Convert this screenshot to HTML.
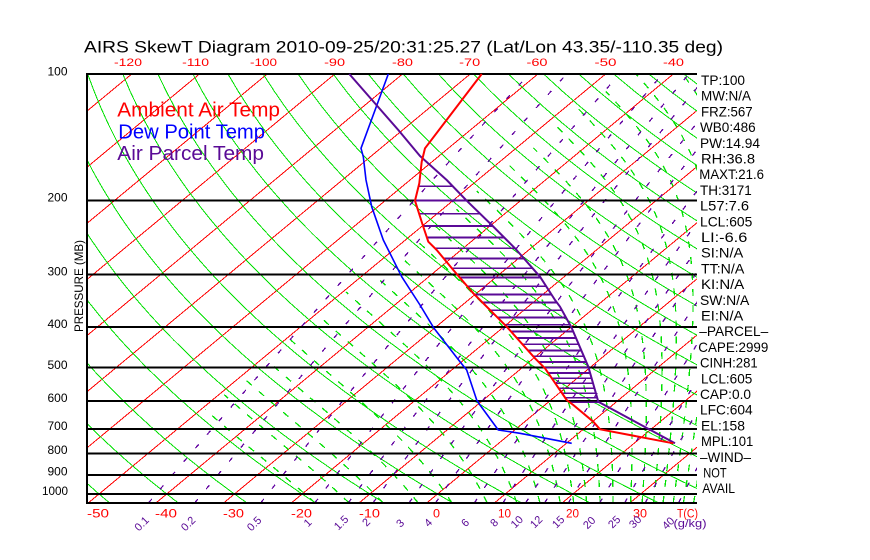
<!DOCTYPE html>
<html><head><meta charset="utf-8"><style>
html,body{margin:0;padding:0;background:#fff;}
svg{display:block;}
text{font-family:"Liberation Sans",sans-serif;}
</style></head><body>
<svg id="s" xmlns="http://www.w3.org/2000/svg" width="870" height="560" viewBox="0 0 870 560">
<rect width="870" height="560" fill="#fff"/>
<defs><clipPath id="c"><rect x="87" y="74" width="610" height="429"/></clipPath></defs>
<g clip-path="url(#c)" shape-rendering="crispEdges">
 <g id="iso" stroke="#ff0000" stroke-width="1" fill="none">
  <line x1="-385.7" y1="503" x2="131.7" y2="74"/>
  <line x1="-318" y1="503" x2="199.4" y2="74"/>
  <line x1="-250.3" y1="503" x2="267.1" y2="74"/>
  <line x1="-182.6" y1="503" x2="334.8" y2="74"/>
  <line x1="-114.9" y1="503" x2="402.5" y2="74"/>
  <line x1="-47.2" y1="503" x2="470.2" y2="74"/>
  <line x1="20.5" y1="503" x2="537.9" y2="74"/>
  <line x1="88.2" y1="503" x2="605.6" y2="74"/>
  <line x1="155.9" y1="503" x2="673.3" y2="74"/>
  <line x1="223.6" y1="503" x2="741" y2="74"/>
  <line x1="291.3" y1="503" x2="808.7" y2="74"/>
  <line x1="359" y1="503" x2="876.4" y2="74"/>
  <line x1="426.7" y1="503" x2="944.1" y2="74"/>
  <line x1="494.4" y1="503" x2="1011.8" y2="74"/>
  <line x1="562.1" y1="503" x2="1079.5" y2="74"/>
  <line x1="629.8" y1="503" x2="1147.2" y2="74"/>
 </g>
 <g id="dry" stroke="#00e000" stroke-width="1" fill="none"></g>
 <g id="wet" stroke="#00e000" stroke-width="1.3" fill="none" stroke-dasharray="7 9"></g>
 <g id="mix" stroke="#6000a0" stroke-width="1.3" fill="none" stroke-dasharray="5 13"></g>
</g>
<g stroke="#000" stroke-width="2" shape-rendering="crispEdges">
 <line x1="87" y1="74" x2="697" y2="74"/>
 <line x1="87" y1="200.4" x2="697" y2="200.4"/>
 <line x1="87" y1="274.4" x2="697" y2="274.4"/>
 <line x1="87" y1="326.9" x2="697" y2="326.9"/>
 <line x1="87" y1="367.6" x2="697" y2="367.6"/>
 <line x1="87" y1="400.8" x2="697" y2="400.8"/>
 <line x1="87" y1="428.9" x2="697" y2="428.9"/>
 <line x1="87" y1="453.3" x2="697" y2="453.3"/>
 <line x1="87" y1="474.8" x2="697" y2="474.8"/>
 <line x1="87" y1="494" x2="697" y2="494"/>
 <line x1="87" y1="503" x2="697" y2="503"/>
 <line x1="87" y1="73" x2="87" y2="504"/>
</g>
<g id="hatch" stroke="#5a0a96" stroke-width="1.7" shape-rendering="crispEdges"></g>
<g fill="none" stroke-width="2" stroke-linejoin="round">
 <polyline stroke="#0000ff" stroke-width="1.6" points="388.3,74 361,148.3 363.3,156.7 366,180 371.7,206.7 383.3,240 401.7,276.7 420,305 434,328.3 460,361.7 466.7,370 476.7,400 480,405 498.3,430 520,433.3 571.7,443.3"/>
 <polyline stroke="#5a0a96" points="349.3,74 398.3,130 420,156 446.7,180 466.7,200.7 491.7,225 515,248.3 540,276.7 555,300 560,306.7 571.5,327.5 588.3,366.7 598.3,401.7 675,443.3"/>
 <polyline stroke="#ff0000" points="481.7,74 425,148.3 421.7,161.7 419.3,183.3 415,200.7 422.7,225 428.3,241.7 436.7,250 453.3,270 473.3,293.3 480,300 506.7,326.7 535,358.3 545,368.3 566.7,400 573.3,405 593.3,421.7 600,429.3 673.3,443.3"/>
</g>

<text x="84" y="52.7" font-size="17" textLength="639" lengthAdjust="spacingAndGlyphs" fill="#000">AIRS SkewT Diagram 2010-09-25/20:31:25.27 (Lat/Lon 43.35/-110.35 deg)</text>

<g fill="#ff0000" font-size="11" text-anchor="middle">
 <text x="128" y="66" textLength="28" lengthAdjust="spacingAndGlyphs">-120</text>
 <text x="195.6" y="66" textLength="27" lengthAdjust="spacingAndGlyphs">-110</text>
 <text x="263.5" y="66" textLength="27" lengthAdjust="spacingAndGlyphs">-100</text>
 <text x="334.6" y="66" textLength="21" lengthAdjust="spacingAndGlyphs">-90</text>
 <text x="402.5" y="66" textLength="21" lengthAdjust="spacingAndGlyphs">-80</text>
 <text x="469.7" y="66" textLength="21" lengthAdjust="spacingAndGlyphs">-70</text>
 <text x="537" y="66" textLength="21" lengthAdjust="spacingAndGlyphs">-60</text>
 <text x="605.5" y="66" textLength="22" lengthAdjust="spacingAndGlyphs">-50</text>
 <text x="673.5" y="66" textLength="21" lengthAdjust="spacingAndGlyphs">-40</text>
</g>

<g fill="#ff0000" font-size="11.5">
 <text x="87" y="517.3" textLength="22" lengthAdjust="spacingAndGlyphs">-50</text>
 <text x="155" y="517.3" textLength="22" lengthAdjust="spacingAndGlyphs">-40</text>
 <text x="223" y="517.3" textLength="21" lengthAdjust="spacingAndGlyphs">-30</text>
 <text x="291" y="517.3" textLength="21" lengthAdjust="spacingAndGlyphs">-20</text>
 <text x="359" y="517.3" textLength="21" lengthAdjust="spacingAndGlyphs">-10</text>
 <text x="433" y="517.3" textLength="7" lengthAdjust="spacingAndGlyphs">0</text>
 <text x="498" y="517.3" textLength="13" lengthAdjust="spacingAndGlyphs">10</text>
 <text x="566" y="517.3" textLength="13" lengthAdjust="spacingAndGlyphs">20</text>
 <text x="633" y="517.3" textLength="14" lengthAdjust="spacingAndGlyphs">30</text>
 <text x="677" y="517.3" textLength="21" lengthAdjust="spacingAndGlyphs">T(C)</text>
</g>

<g fill="#5a0a96" font-size="11" text-anchor="middle">
 <text x="141.5" y="527.5" transform="rotate(-45 141.5 523.5)">0.1</text>
 <text x="188" y="527.5" transform="rotate(-45 188 523.5)">0.2</text>
 <text x="254" y="527.5" transform="rotate(-45 254 523.5)">0.5</text>
 <text x="307.5" y="526.5" transform="rotate(-45 307.5 522.5)">1</text>
 <text x="341" y="526.5" transform="rotate(-45 341 522.5)">1.5</text>
 <text x="366" y="526" transform="rotate(-45 366 522)">2</text>
 <text x="400" y="527" transform="rotate(-45 400 523)">3</text>
 <text x="428" y="526.5" transform="rotate(-45 428 522.5)">4</text>
 <text x="465" y="526.5" transform="rotate(-45 465 522.5)">6</text>
 <text x="494" y="526.5" transform="rotate(-45 494 522.5)">8</text>
 <text x="516.7" y="525.7" transform="rotate(-45 516.7 521.7)">10</text>
 <text x="536" y="525.7" transform="rotate(-45 536 521.7)">12</text>
 <text x="558" y="525.7" transform="rotate(-45 558 521.7)">15</text>
 <text x="589" y="526.5" transform="rotate(-45 589 522.5)">20</text>
 <text x="614" y="525.7" transform="rotate(-45 614 521.7)">25</text>
 <text x="635" y="525.7" transform="rotate(-45 635 521.7)">30</text>
 <text x="668" y="527" transform="rotate(-45 668 523)">40</text>
 <text x="690" y="527" textLength="33" lengthAdjust="spacingAndGlyphs">(g/kg)</text>
</g>

<g fill="#000" font-size="12" text-anchor="end">
 <text x="67.5" y="75.5" textLength="20" lengthAdjust="spacingAndGlyphs">100</text>
 <text x="67.5" y="201.5" textLength="20" lengthAdjust="spacingAndGlyphs">200</text>
 <text x="67.5" y="275.5" textLength="20" lengthAdjust="spacingAndGlyphs">300</text>
 <text x="67.5" y="328" textLength="20" lengthAdjust="spacingAndGlyphs">400</text>
 <text x="67.5" y="369" textLength="20" lengthAdjust="spacingAndGlyphs">500</text>
 <text x="67.5" y="402" textLength="20" lengthAdjust="spacingAndGlyphs">600</text>
 <text x="67.5" y="430" textLength="20" lengthAdjust="spacingAndGlyphs">700</text>
 <text x="67.5" y="454" textLength="20" lengthAdjust="spacingAndGlyphs">800</text>
 <text x="67.5" y="475.5" textLength="20" lengthAdjust="spacingAndGlyphs">900</text>
 <text x="68" y="495" textLength="26" lengthAdjust="spacingAndGlyphs">1000</text>
</g>
<text x="0" y="0" font-size="12" fill="#000" text-anchor="middle" textLength="92" lengthAdjust="spacingAndGlyphs" transform="translate(83 286) rotate(-90)">PRESSURE (MB)</text>

<g font-size="20.5">
 <text x="117.3" y="116.7" fill="#ff0000" textLength="162.7" lengthAdjust="spacingAndGlyphs">Ambient Air Temp</text>
 <text x="118.3" y="138.3" fill="#0000ff" textLength="146.7" lengthAdjust="spacingAndGlyphs">Dew Point Temp</text>
 <text x="117.3" y="160" fill="#5a0a96" textLength="146.7" lengthAdjust="spacingAndGlyphs">Air Parcel Temp</text>
</g>

<g fill="#000" font-size="14">
 <text x="701" y="85" textLength="44" lengthAdjust="spacingAndGlyphs">TP:100</text>
 <text x="701" y="100.7" textLength="50" lengthAdjust="spacingAndGlyphs">MW:N/A</text>
 <text x="701" y="116.4" textLength="51.7" lengthAdjust="spacingAndGlyphs">FRZ:567</text>
 <text x="700" y="132.1" textLength="55.7" lengthAdjust="spacingAndGlyphs">WB0:486</text>
 <text x="700" y="147.8" textLength="60" lengthAdjust="spacingAndGlyphs">PW:14.94</text>
 <text x="701" y="163.5" textLength="54" lengthAdjust="spacingAndGlyphs">RH:36.8</text>
 <text x="699.3" y="179.2" textLength="64.7" lengthAdjust="spacingAndGlyphs">MAXT:21.6</text>
 <text x="700" y="194.9" textLength="51.7" lengthAdjust="spacingAndGlyphs">TH:3171</text>
 <text x="700" y="210.6" textLength="49" lengthAdjust="spacingAndGlyphs">L57:7.6</text>
 <text x="700" y="226.3" textLength="52.3" lengthAdjust="spacingAndGlyphs">LCL:605</text>
 <text x="701" y="242" textLength="46.3" lengthAdjust="spacingAndGlyphs">LI:-6.6</text>
 <text x="701" y="257.7" textLength="42.3" lengthAdjust="spacingAndGlyphs">SI:N/A</text>
 <text x="701" y="273.4" textLength="43.3" lengthAdjust="spacingAndGlyphs">TT:N/A</text>
 <text x="701" y="289.1" textLength="43.3" lengthAdjust="spacingAndGlyphs">KI:N/A</text>
 <text x="700" y="304.8" textLength="49.3" lengthAdjust="spacingAndGlyphs">SW:N/A</text>
 <text x="701" y="320.5" textLength="42.3" lengthAdjust="spacingAndGlyphs">EI:N/A</text>
 <text x="699.3" y="336.2" textLength="69" lengthAdjust="spacingAndGlyphs">–PARCEL–</text>
 <text x="698.3" y="351.9" textLength="70" lengthAdjust="spacingAndGlyphs">CAPE:2999</text>
 <text x="700" y="367.6" textLength="57.7" lengthAdjust="spacingAndGlyphs">CINH:281</text>
 <text x="701" y="383.3" textLength="51.3" lengthAdjust="spacingAndGlyphs">LCL:605</text>
 <text x="700" y="399" textLength="51" lengthAdjust="spacingAndGlyphs">CAP:0.0</text>
 <text x="700" y="414.7" textLength="52.7" lengthAdjust="spacingAndGlyphs">LFC:604</text>
 <text x="701" y="430.4" textLength="44" lengthAdjust="spacingAndGlyphs">EL:158</text>
 <text x="701" y="446.1" textLength="52.3" lengthAdjust="spacingAndGlyphs">MPL:101</text>
 <text x="700" y="461.8" textLength="51" lengthAdjust="spacingAndGlyphs">–WIND–</text>
 <text x="703.3" y="477.5" textLength="23.3" lengthAdjust="spacingAndGlyphs">NOT</text>
 <text x="702.3" y="493.2" textLength="32.7" lengthAdjust="spacingAndGlyphs">AVAIL</text>
</g>
</svg>
<script>
(function(){
var NS="http://www.w3.org/2000/svg";
function Y(p){return 74+182.4*Math.log(p/100);}
function X(T,p){return 426.7+6.77*T+1.206*(503-Y(p));}
function poly(pts,parent){
  if(pts.length<2) return;
  var el=document.createElementNS(NS,"polyline");
  el.setAttribute("points",pts.map(function(a){return a[0].toFixed(1)+","+a[1].toFixed(1);}).join(" "));
  parent.appendChild(el);
}
var gd=document.getElementById("dry");
for(var th=-50;th<=200;th+=10){
  var pts=[];
  for(var p=1050;p>=100;p-=10){
    var T=(th+273.15)*Math.pow(p/1000,0.2857)-273.15;
    pts.push([X(T,p),Y(p)]);
  }
  poly(pts,gd);
}
function es(t){return 6.112*Math.exp(17.67*t/(t+243.5));}
function dTdp(TK,p){
  var e=es(TK-273.15); var r=0.622*e/(p-e);
  return (287*TK+2.5e6*r)/(p*(1004+2.5e6*2.5e6*r*0.622/(287*TK*TK)));
}
var gw=document.getElementById("wet");
var wl=[-16.5,-11.5,-6.5,-1.3,3.7,8.9,13.3,16.7,19.7,21.7,23.6,25.6,27.5,30.1,31.8,33.5,34.9,36.4,37.9,39.4];
wl.forEach(function(T0){
  var TK=T0+273.15,p=1050,pts=[[X(T0,p),Y(p)]];
  for(var i=1;i<=475;i++){
    var dp=-2;
    var k1=dTdp(TK,p);
    var k2=dTdp(TK+k1*dp,p+dp);
    TK+=0.5*(k1+k2)*dp; p=1050-2*i;
    if(TK-273.15< -50) break;
    if(i%5==0) pts.push([X(TK-273.15,p),Y(p)]);
  }
  poly(pts,gw);
});
var gm=document.getElementById("mix");
[0.1,0.2,0.5,1,1.5,2,3,4,6,8,10,12,15,20,25,30,40].forEach(function(w){
  var pts=[];
  for(var p=1050;p>=100;p-=10){
    var e=w*p/(622+w); var l=Math.log(e/6.112); var T=243.5*l/(17.67-l);
    pts.push([X(T,p),Y(p)]);
  }
  poly(pts,gm);
});
var red=[[481.7,74],[425,148.3],[421.7,161.7],[419.3,183.3],[415,200.7],[422.7,225],[428.3,241.7],[436.7,250],[453.3,270],[473.3,293.3],[480,300],[506.7,326.7],[535,358.3],[545,368.3],[566.7,400],[573.3,405],[593.3,421.7],[600,429.3],[673.3,443.3]];
var pur=[[349.3,74],[398.3,130],[420,156],[446.7,180],[466.7,200.7],[491.7,225],[515,248.3],[540,276.7],[555,300],[560,306.7],[571.5,327.5],[588.3,366.7],[598.3,401.7],[675,443.3]];
function interp(pl,y){
  for(var i=0;i<pl.length-1;i++){var a=pl[i],b=pl[i+1];
    if(y>=a[1]&&y<=b[1]) return a[0]+(b[0]-a[0])*(y-a[1])/(b[1]-a[1]);}
  return null;
}
var gh=document.getElementById("hatch");
for(var p=185;p<=605;p+=15){
  var y=Y(p),x1=interp(red,y),x2=interp(pur,y);
  if(x1!==null&&x2!==null){
    var l=document.createElementNS(NS,"line");
    l.setAttribute("x1",x1.toFixed(1));l.setAttribute("x2",x2.toFixed(1));
    l.setAttribute("y1",y.toFixed(1));l.setAttribute("y2",y.toFixed(1));
    gh.appendChild(l);
  }
}
})();
</script>
</body></html>
